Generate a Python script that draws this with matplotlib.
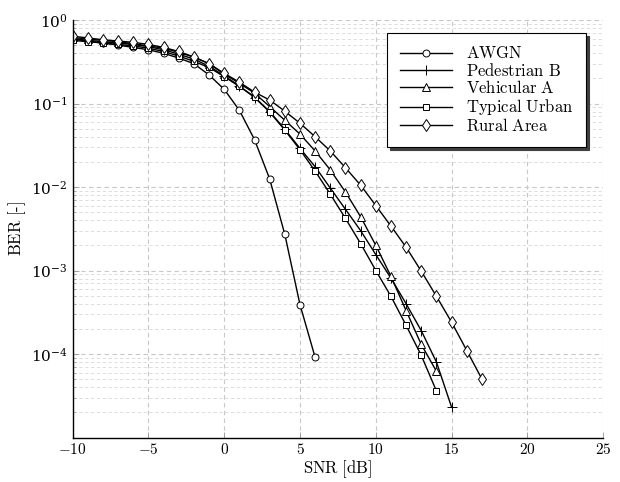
import numpy as np
import matplotlib
matplotlib.use("Agg")
import matplotlib.pyplot as plt
from matplotlib.ticker import LogLocator, FixedLocator, LogFormatterMathtext, NullFormatter

plt.rcParams['mathtext.fontset'] = 'cm'
plt.rcParams['font.family'] = ['DejaVu Serif']

# ---- data ----
snr_awgn = list(range(-10, 7))
ber_awgn = [0.59, 0.56, 0.53, 0.50, 0.47, 0.44, 0.40, 0.35, 0.30, 0.22,
            0.148, 0.083, 0.037, 0.0125, 0.0027, 3.9e-4, 9.1e-5]

snr_ped = list(range(-10, 16))
ber_ped = [0.60, 0.57, 0.55, 0.53, 0.51, 0.48, 0.44, 0.39, 0.34, 0.28,
           0.215, 0.163, 0.118, 0.080, 0.049, 0.029, 0.0175, 0.0097, 0.0054,
           0.0030, 0.00155, 8.1e-4, 4.0e-4, 1.9e-4, 8.0e-5, 2.3e-5]

snr_veh = list(range(-10, 15))
ber_veh = [0.62, 0.59, 0.57, 0.55, 0.52, 0.49, 0.46, 0.41, 0.36, 0.30,
           0.225, 0.175, 0.133, 0.092, 0.063, 0.043, 0.027, 0.016, 0.0087,
           0.0044, 0.0020, 8.5e-4, 3.3e-4, 1.3e-4, 6.2e-5]

snr_tu = list(range(-10, 15))
ber_tu = [0.57, 0.55, 0.53, 0.51, 0.49, 0.46, 0.42, 0.37, 0.32, 0.27,
          0.21, 0.160, 0.120, 0.079, 0.048, 0.028, 0.0155, 0.0082, 0.0042,
          0.0021, 0.0010, 4.9e-4, 2.2e-4, 9.6e-5, 3.6e-5]

snr_rural = list(range(-10, 18))
ber_rural = [0.64, 0.61, 0.58, 0.56, 0.54, 0.51, 0.47, 0.42, 0.36, 0.30,
             0.23, 0.18, 0.137, 0.110, 0.081, 0.058, 0.040, 0.027, 0.017,
             0.0105, 0.0060, 0.0034, 0.0019, 9.8e-4, 4.9e-4, 2.4e-4, 1.1e-4, 5.0e-5]

labels = ['AWGN', 'Pedestrian B', 'Vehicular A', 'Typical Urban', 'Rural Area']
markers = ['o', '+', '^', 's', 'd']
xticks = [-10, -5, 0, 5, 10, 15, 20, 25]

# ---- plot ----
fig = plt.figure(figsize=(6.2, 4.82), dpi=100)
ax = fig.add_axes([0.117, 0.0923, 0.856, 0.8662])

series = [(snr_awgn, ber_awgn), (snr_ped, ber_ped), (snr_veh, ber_veh),
          (snr_tu, ber_tu), (snr_rural, ber_rural)]
msizes = {'o': 5, '+': 7, '^': 5.5, 's': 4.8, 'd': 6.5}
for (x, y), lab, m in zip(series, labels, markers):
    kw = dict(color='black', lw=1.0, marker=m, markersize=msizes[m],
              markeredgecolor='black', markeredgewidth=0.7, label=lab)
    if m != '+':
        kw['markerfacecolor'] = 'white'
    ax.plot(x, y, **kw)

ax.set_yscale('log')
ax.set_xlim(-10, 25)
ax.set_ylim(1e-5, 1)
ax.xaxis.set_major_locator(FixedLocator(xticks))
ax.set_xticklabels([r'$%d$' % v if v >= 0 else r'$-%d$' % (-v) for v in xticks])
ax.yaxis.set_major_locator(LogLocator(base=10, numticks=10))
ax.yaxis.set_major_formatter(LogFormatterMathtext())
ax.yaxis.set_minor_locator(LogLocator(base=10, subs=np.arange(2, 10), numticks=20))
ax.yaxis.set_minor_formatter(NullFormatter())
ax.set_yticks([1e-4, 1e-3, 1e-2, 1e-1, 1e0])

ax.grid(True, which='major', axis='both', color='#c8c8c8', ls=(0, (4, 3)), lw=0.8)
ax.grid(True, which='minor', axis='y', color='#d8d8d8', ls=(0, (4, 3)), lw=0.6)
ax.set_axisbelow(True)

for s in ['top', 'right']:
    ax.spines[s].set_visible(False)
for s in ['left', 'bottom']:
    ax.spines[s].set_linewidth(1.0)
ax.tick_params(which='both', direction='in', labelsize=11)
ax.tick_params(which='major', length=4, width=0.6, color='#999999')
ax.tick_params(which='minor', length=2.5, width=0.5, color='#999999')

ax.set_xlabel(r'$\mathrm{SNR\ [dB]}$', fontsize=12, labelpad=1)
ax.set_ylabel(r'$\mathrm{BER\ [\text{-}]}$', fontsize=12, labelpad=2)

leg = ax.legend([r'$\mathrm{%s}$' % l.replace(' ', r'\ ') for l in labels],
                loc='upper right', bbox_to_anchor=(0.967, 0.969), borderaxespad=0,
                frameon=True, fancybox=False, shadow={'color': '#404040', 'alpha': 1},
                edgecolor='black', framealpha=1, fontsize=12,
                handlelength=3.1, handletextpad=0.85, borderpad=0.75, labelspacing=0.02)
leg.get_frame().set_linewidth(0.8)

fig.savefig('out.png', dpi=100)
